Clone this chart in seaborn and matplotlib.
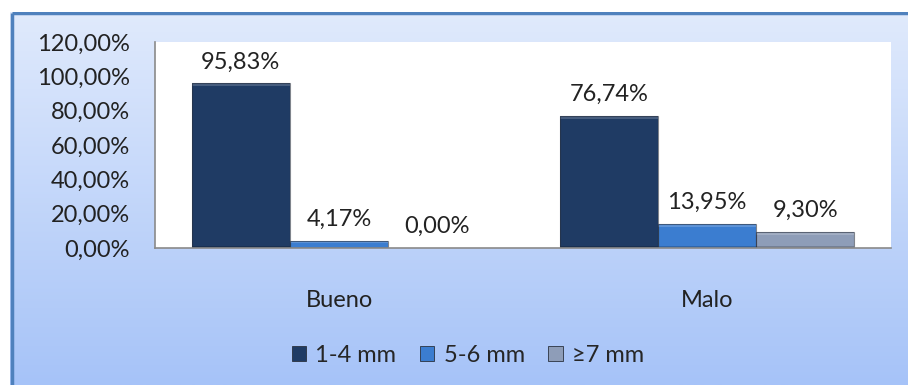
import numpy as np
import pandas as pd
import matplotlib
matplotlib.use("Agg")
import matplotlib.pyplot as plt
from matplotlib.patches import Rectangle
import seaborn as sns

categories = ["Bueno", "Malo"]
series = ["1-4 mm", "5-6 mm", "≥7 mm"]
values_1_4 = [95.83, 76.74]
values_5_6 = [4.17, 13.95]
values_7 = [0.00, 9.30]
yticks = [0, 20, 40, 60, 80, 100, 120]

colors = ["#1f3b64", "#3b7dd0", "#8e9db8"]

df = pd.DataFrame({
    "estado": categories * 3,
    "grosor": [s for s in series for _ in categories],
    "valor": values_1_4 + values_5_6 + values_7,
})

sns.set_style("white")
plt.rcParams["font.family"] = ["Lato", "DejaVu Sans"]
FS = 17
TXT = "#222222"

fig = plt.figure(figsize=(9.08, 3.85), dpi=100)
fig.patch.set_facecolor("white")

# gradient panel behind the chart
bg = fig.add_axes([10 / 908, 0, 1 - 10 / 908, (385 - 12) / 385])
grad = np.linspace(0, 1, 256).reshape(-1, 1)
top = np.array([0xe0, 0xea, 0xfc]) / 255
bot = np.array([0xa6, 0xc3, 0xf8]) / 255
img = top[None, None, :] * (1 - grad[:, :, None]) + bot[None, None, :] * grad[:, :, None]
bg.imshow(img, aspect="auto", extent=[0, 1, 0, 1], origin="upper")
bg.set_xlim(0, 1)
bg.set_ylim(0, 1)
bg.set_axis_off()
bg.plot([0.002, 0.002], [0, 0.997], color="#4f81bd", lw=2.5, solid_capstyle="butt")
bg.plot([0.002, 1], [0.997, 0.997], color="#4f81bd", lw=2.5, solid_capstyle="butt")

ax = fig.add_axes([155 / 908, (385 - 248) / 385, (891 - 155) / 908, (248 - 42) / 385])
sns.barplot(data=df, x="estado", y="valor", hue="grosor", hue_order=series,
            palette=colors, width=0.8, saturation=1, ax=ax, legend=False,
            edgecolor="none", linewidth=0)
ax.set_facecolor("white")
ax.set_xlim(-0.5, 1.5)
ax.set_ylim(0, 120)
ax.set_yticks(yticks)
ax.set_yticklabels([f"{v:.2f}".replace(".", ",") + "%" for v in yticks])
ax.set_xlabel("")
ax.set_ylabel("")
ax.tick_params(axis="y", length=0, pad=18, labelsize=FS, colors=TXT)
ax.tick_params(axis="x", length=0, pad=30, labelsize=FS, colors=TXT)
for s in ["top", "right"]:
    ax.spines[s].set_visible(False)
for s in ["left", "bottom"]:
    ax.spines[s].set_color("#8a8a8a")
    ax.spines[s].set_linewidth(1.2)

# bevel highlights on each bar
for cont in ax.containers:
    for p in cont.patches:
        h = p.get_height()
        if h <= 0:
            continue
        x, w = p.get_x(), p.get_width()
        bev = min(1.6, h * 0.3)
        ax.add_patch(Rectangle((x, h - bev), w, bev, facecolor="white",
                               alpha=0.18, linewidth=0))
        ax.add_patch(Rectangle((x, 0), w, min(1.0, h * 0.2), facecolor="black",
                               alpha=0.18, linewidth=0))
        ax.add_patch(Rectangle((x, 0), w, h, facecolor="none",
                               edgecolor="#2a3240", linewidth=0.8, alpha=0.6))

for cont in ax.containers:
    ax.bar_label(cont, labels=[f"{p.get_height():.2f}".replace(".", ",") + "%"
                               for p in cont.patches],
                 padding=8, fontsize=FS, color=TXT)

handles = [Rectangle((0, 0), 1, 1, facecolor=c, edgecolor="#2a3240", linewidth=0.6)
           for c in colors]
fig.legend(handles, series, loc="center", bbox_to_anchor=(468 / 908, 1 - 355 / 385),
           ncol=3, frameon=False, fontsize=FS, handlelength=0.6, handleheight=0.6,
           handletextpad=0.4, columnspacing=1.0)

fig.savefig("out.png", dpi=100)
